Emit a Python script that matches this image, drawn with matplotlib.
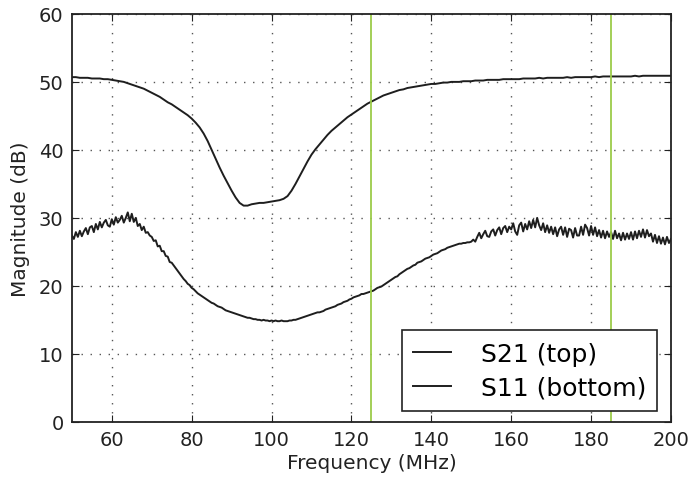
import numpy as np
import matplotlib
matplotlib.use("Agg")
import matplotlib.pyplot as plt

# =========================
# Data
# =========================
# S21 sampled every 1 MHz, 50..200
freq_s21 = np.arange(50, 201, 1)
s21_db = [
    50.7, 50.7, 50.6, 50.6, 50.6, 50.5, 50.5, 50.5, 50.4, 50.4,
    50.3, 50.2, 50.1, 50.0, 49.8, 49.6, 49.4, 49.2, 49.0, 48.7,
    48.4, 48.1, 47.8, 47.4, 47.0, 46.7, 46.3, 45.9, 45.5, 45.1,
    44.6, 44.0, 43.3, 42.4, 41.3, 40.0, 38.7, 37.4, 36.2, 35.1,
    34.0, 33.0, 32.2, 31.8, 31.8, 32.0, 32.1, 32.2, 32.2, 32.3,
    32.4, 32.5, 32.6, 32.8, 33.2, 34.0, 35.0, 36.1, 37.2, 38.3,
    39.3, 40.1, 40.8, 41.5, 42.2, 42.8, 43.3, 43.8, 44.3, 44.8,
    45.2, 45.6, 46.0, 46.4, 46.8, 47.1, 47.4, 47.7, 48.0, 48.2,
    48.4, 48.6, 48.8, 48.9, 49.1, 49.2, 49.3, 49.4, 49.5, 49.6,
    49.7, 49.7, 49.8, 49.9, 49.9, 50.0, 50.0, 50.0, 50.1, 50.1,
    50.1, 50.2, 50.2, 50.2, 50.3, 50.3, 50.3, 50.3, 50.4, 50.4,
    50.4, 50.4, 50.4, 50.5, 50.5, 50.5, 50.5, 50.6, 50.5, 50.6,
    50.6, 50.6, 50.6, 50.6, 50.7, 50.6, 50.7, 50.7, 50.7, 50.7,
    50.7, 50.8, 50.7, 50.8, 50.8, 50.8, 50.8, 50.8, 50.8, 50.8,
    50.8, 50.9, 50.8, 50.9, 50.9, 50.9, 50.9, 50.9, 50.9, 50.9,
    50.9,
]

# S11 sampled every 0.5 MHz, 50..200
freq_s11 = np.arange(50, 200.25, 0.5)
s11_db = [
    27.4, 26.9, 27.9, 27.2, 28.1, 27.3, 28.0, 28.5, 27.6, 28.6,
    28.8, 27.9, 29.1, 28.3, 29.4, 28.6, 29.3, 29.7, 28.9, 28.7,
    29.8, 29.0, 30.1, 29.3, 29.7, 30.3, 29.3, 30.0, 30.8, 29.5,
    30.6, 29.4, 30.0, 28.8, 29.1, 28.2, 28.7, 27.8, 27.9, 27.4,
    27.2, 26.6, 26.7, 25.8, 25.9, 25.1, 25.1, 24.4, 24.3, 23.5,
    23.4, 23.0, 22.6, 22.2, 21.8, 21.4, 21.0, 20.7, 20.3, 20.1,
    19.7, 19.5, 19.2, 18.9, 18.7, 18.5, 18.3, 18.1, 17.9, 17.7,
    17.5, 17.4, 17.2, 17.0, 16.9, 16.8, 16.6, 16.4, 16.3, 16.2,
    16.1, 16.0, 15.9, 15.8, 15.7, 15.6, 15.5, 15.4, 15.3, 15.3,
    15.2, 15.1, 15.1, 15.0, 15.0, 14.9, 15.0, 14.9, 14.9, 14.8,
    14.9, 14.8, 14.9, 14.8, 14.8, 14.9, 14.8, 14.8, 14.8, 14.9,
    14.9, 15.0, 15.0, 15.1, 15.2, 15.3, 15.4, 15.5, 15.6, 15.7,
    15.8, 15.9, 16.0, 16.1, 16.1, 16.2, 16.3, 16.5, 16.6, 16.7,
    16.8, 16.9, 17.0, 17.2, 17.3, 17.4, 17.6, 17.7, 17.8, 18.0,
    18.1, 18.3, 18.4, 18.5, 18.6, 18.8, 18.8, 18.9, 19.0, 19.1,
    19.2, 19.3, 19.5, 19.7, 19.8, 19.9, 20.1, 20.3, 20.5, 20.7,
    20.9, 21.1, 21.3, 21.4, 21.7, 21.9, 22.1, 22.3, 22.5, 22.6,
    22.8, 23.0, 23.1, 23.4, 23.5, 23.6, 23.8, 24.0, 24.1, 24.2,
    24.4, 24.6, 24.7, 24.8, 25.0, 25.2, 25.3, 25.4, 25.6, 25.7,
    25.8, 25.9, 26.0, 26.1, 26.2, 26.2, 26.3, 26.3, 26.4, 26.4,
    26.5, 26.8, 26.5, 27.2, 27.8, 27.0, 27.6, 28.1, 27.3, 27.2,
    28.0, 28.3, 27.4, 28.2, 28.6, 27.6, 28.5, 28.8, 27.9, 28.7,
    28.3, 29.2, 28.0, 27.5, 28.9, 29.3, 28.0, 29.1, 28.3, 29.5,
    28.5, 29.7, 28.6, 30.0, 28.9, 28.2, 29.2, 27.9, 28.9, 27.8,
    28.7, 27.6, 28.6, 27.3, 28.3, 28.7, 27.5, 28.6, 27.2, 28.4,
    28.2, 27.1, 28.5, 27.4, 27.4, 28.7, 27.5, 29.0, 28.5, 27.4,
    28.8, 27.5, 28.6, 27.3, 28.2, 27.1, 28.1, 27.0, 28.0, 27.2,
    27.9, 26.9, 28.1, 27.0, 27.7, 26.7, 27.8, 26.8, 27.7, 26.9,
    27.9, 26.8, 28.0, 27.0, 28.1, 27.2, 28.3, 27.1, 28.2, 27.3,
    27.7, 26.5, 27.5, 26.3, 27.3, 26.2, 27.1, 26.1, 27.2, 26.3,
    26.9,
]

# passband markers (MHz)
markers = [125, 185]

x_ticks = [60, 80, 100, 120, 140, 160, 180, 200]
y_ticks = [0, 10, 20, 30, 40, 50, 60]

# =========================
# Plot
# =========================
fig = plt.figure(figsize=(6.91, 4.81), dpi=100)
ax = fig.add_axes([0.104, 0.121, 0.867, 0.848])

ax.plot(freq_s21, s21_db, color="#1e1e1e", lw=1.4, label="S21 (top)")
ax.plot(freq_s11, s11_db, color="#1e1e1e", lw=1.4, label="S11 (bottom)")
for m in markers:
    ax.axvline(m, color="#9ccc4a", lw=1.3)

ax.set_xlim(50, 200)
ax.set_ylim(0, 60)
ax.set_xticks(x_ticks)
ax.set_yticks(y_ticks)
ax.grid(True, color="#555555", linestyle=(0, (1, 5.5)), linewidth=1.0)
ax.tick_params(direction="in", top=True, right=True, length=5,
               labelsize=14, colors="#222222", pad=6)
for s in ax.spines.values():
    s.set_linewidth(1.3)
    s.set_color("#222222")

ax.set_xlabel("Frequency (MHz)", fontsize=14.5, color="#222222", labelpad=3)
ax.set_ylabel("Magnitude (dB)", fontsize=14.5, color="#222222", labelpad=6)

leg = ax.legend(loc="lower right", bbox_to_anchor=(0.977, 0.027),
                borderaxespad=0, fontsize=18, handlelength=1.5,
                handletextpad=1.2, labelspacing=0.4, borderpad=0.45,
                fancybox=False, framealpha=1)
leg.get_frame().set_edgecolor("#222222")
leg.get_frame().set_linewidth(1.2)

fig.savefig("out.png", dpi=100)
